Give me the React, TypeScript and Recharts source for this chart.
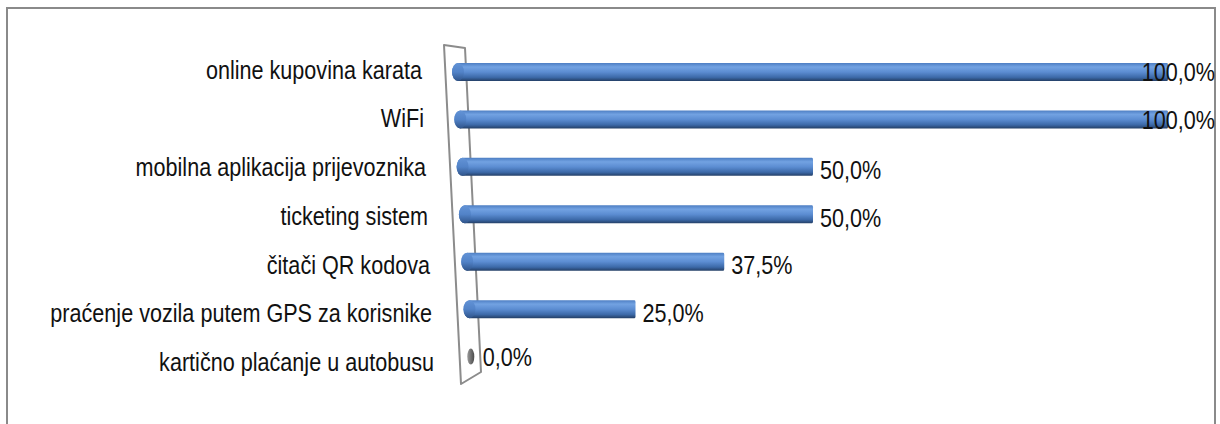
import { BarChart, Bar, XAxis, YAxis, LabelList } from 'recharts'

const categories = [
    'online kupovina karata',
    'WiFi',
    'mobilna aplikacija prijevoznika',
    'ticketing sistem',
    'čitači QR kodova',
    'praćenje vozila putem GPS za korisnike',
    'kartično plaćanje u autobusu',
]
const shares = [100, 100, 50, 50, 37.5, 25, 0]
const xTicks = [0, 100]

const data = categories.map((name, i) => ({ name, value: shares[i] }))

const FONT = '"Liberation Sans", Arial, sans-serif'
const FONT_SIZE = 21.6
const STRETCH = 1.17

// perspective: lower rows start a little further right
const rowShift = (i: number) => i * 2.3 - 6

const fmt = (v: number) => v.toFixed(1).replace('.', ',') + '%'

function CategoryTick(props: any) {
    const { x, y, payload, index } = props
    return (
        <g transform={`translate(${x - 28 + index * 2}, ${y + index * 1.3}) scale(1, ${STRETCH})`}>
            <text x={0} y={0} dy={6} textAnchor="end" fontSize={FONT_SIZE} fontFamily={FONT} fill="#111">
                {payload.value}
            </text>
        </g>
    )
}

function Cylinder(props: any) {
    const { x, y, width, height, index } = props
    const s = rowShift(index)
    const cy = y + height / 2
    if (width < 1) {
        return <ellipse cx={x + s + 5} cy={cy} rx={3.5} ry={8} fill="url(#capGray)" />
    }
    const x0 = x + s
    const x1 = x + width
    const rx = 6
    const h = height
    const d = `M${x0 + rx},${y} L${x1 - 1},${y} Q${x1},${y} ${x1},${y + 2} L${x1},${y + h - 2} Q${x1},${y + h} ${x1 - 1},${y + h} L${x0 + rx},${y + h} A${rx},${h / 2} 0 0 1 ${x0 + rx},${y} Z`
    return (
        <g>
            <path d={d} fill="url(#cyl)" />
            <ellipse cx={x0 + rx} cy={cy} rx={rx} ry={h / 2} fill="url(#cap)" />
        </g>
    )
}

function ValueLabel(props: any) {
    const { x, y, width, height, value, index } = props
    const end = width < 1 ? x + rowShift(index) + 10 : x + width
    let tx = end + 7
    let anchor: 'start' | 'end' = 'start'
    const text = fmt(value)
    if (tx + text.length * 12 > 1216) {
        tx = 1215
        anchor = 'end'
    }
    const lift = index >= 2 && index <= 5 ? 3 : 0
    return (
        <g transform={`translate(${tx}, ${y + height / 2 + lift}) scale(1, ${STRETCH})`}>
            <text x={0} y={0} dy={8} textAnchor={anchor} fontSize={FONT_SIZE} fontFamily={FONT} fill="#111">
                {text}
            </text>
        </g>
    )
}

export default function App() {
    return (
        <div style={{ position: 'absolute', left: 0, top: 0, width: 1220, height: 424, overflow: 'hidden', background: '#fff' }}>
            <div
                style={{
                    position: 'absolute',
                    left: 6,
                    top: 7,
                    width: 1206,
                    height: 440,
                    borderTop: '2px solid #8a8a8a',
                    borderLeft: '2px solid #8a8a8a',
                    borderRight: '2px solid #8a8a8a',
                }}
            />
            <svg width={1220} height={424} style={{ position: 'absolute', left: 0, top: 0 }}>
                <polygon
                    points="444,45 465,48 481,372 461,384"
                    fill="none"
                    stroke="#8c8c8c"
                    strokeWidth={2}
                    strokeLinejoin="round"
                />
            </svg>
            <div style={{ position: 'absolute', left: 0, top: 0 }}>
                <BarChart
                    width={1220}
                    height={424}
                    data={data}
                    layout="vertical"
                    margin={{ top: 48, right: 52, bottom: 44, left: 0 }}
                >
                    <defs>
                        <linearGradient id="cyl" x1="0" y1="0" x2="0" y2="1">
                            <stop offset="0%" stopColor="#4d7ec3" />
                            <stop offset="22%" stopColor="#72a2e2" />
                            <stop offset="50%" stopColor="#5c8dd2" />
                            <stop offset="80%" stopColor="#3c69a8" />
                            <stop offset="100%" stopColor="#243f66" />
                        </linearGradient>
                        <linearGradient id="cap" x1="0" y1="0" x2="0" y2="1">
                            <stop offset="0%" stopColor="#6393d6" />
                            <stop offset="50%" stopColor="#5283c8" />
                            <stop offset="100%" stopColor="#2f548a" />
                        </linearGradient>
                        <linearGradient id="capGray" x1="0" y1="0" x2="1" y2="0">
                            <stop offset="0%" stopColor="#9a9a9a" />
                            <stop offset="100%" stopColor="#4a4a4a" />
                        </linearGradient>
                    </defs>
                    <XAxis type="number" domain={[0, 100]} ticks={xTicks} hide />
                    <YAxis
                        type="category"
                        dataKey="name"
                        width={458}
                        axisLine={false}
                        tickLine={false}
                        tick={<CategoryTick />}
                        interval={0}
                    />
                    <Bar dataKey="value" barSize={18} shape={<Cylinder />} isAnimationActive={false}>
                        <LabelList dataKey="value" content={<ValueLabel />} />
                    </Bar>
                </BarChart>
            </div>
        </div>
    )
}
